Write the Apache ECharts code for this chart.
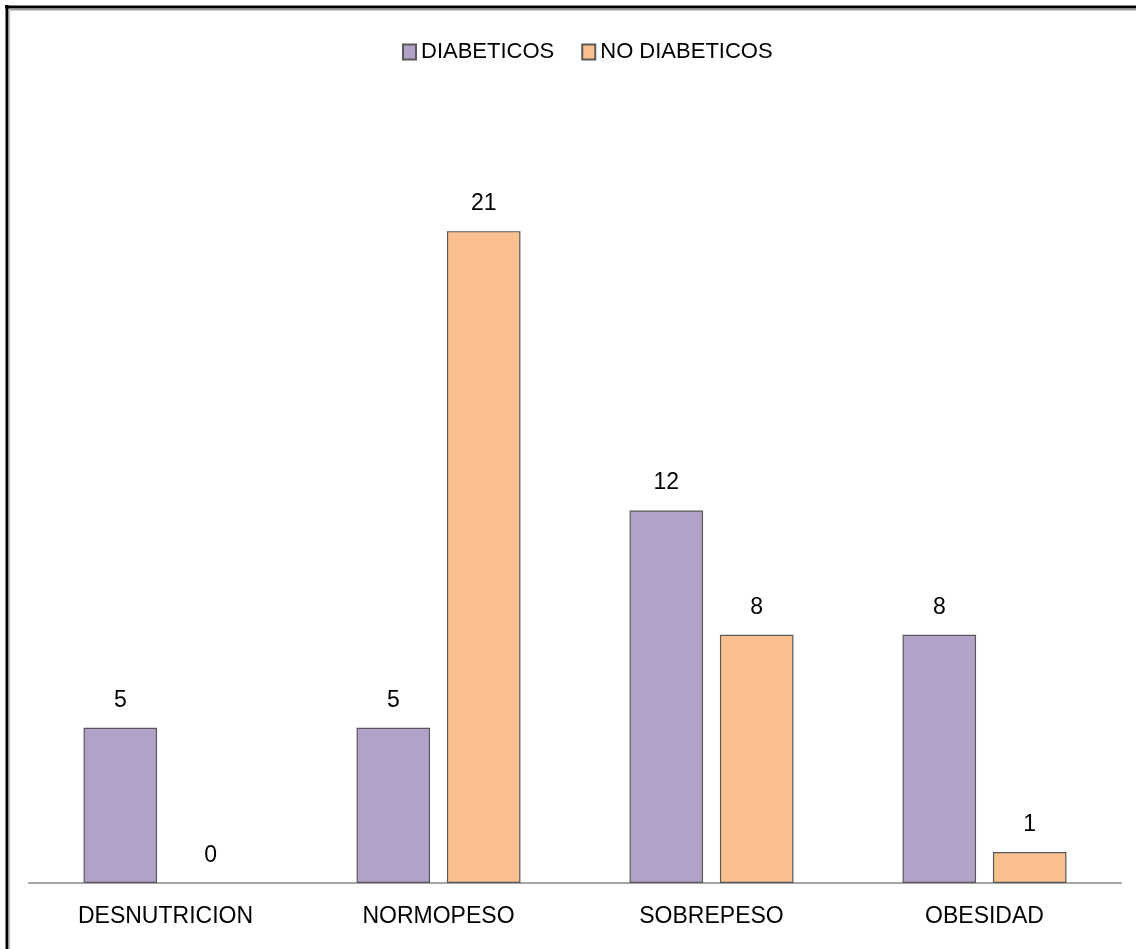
<!DOCTYPE html>
<html>
<head>
<meta charset="utf-8">
<script src="https://cdn.jsdelivr.net/npm/echarts@6/dist/echarts.min.js"></script>
<style>
html,body{margin:0;padding:0;background:#fff;}
#chart{width:1136px;height:949px;}
</style>
</head>
<body>
<div id="chart"></div>
<script>
const categories = ['DESNUTRICION', 'NORMOPESO', 'SOBREPESO', 'OBESIDAD'];
const seriesNames = ['DIABETICOS', 'NO DIABETICOS'];
const diabeticos = [5, 5, 12, 8];
const noDiabeticos = [0, 21, 8, 1];

const FONT = "'Liberation Sans', Arial, sans-serif";
const chart = echarts.init(document.getElementById('chart'), null, {renderer: 'canvas'});

const labelOpt = {
  show: true,
  position: 'top',
  distance: 16,
  color: '#000',
  fontFamily: FONT,
  fontSize: 23
};

// zero-height bars draw no outline
function toItems(arr) {
  return arr.map(v => v === 0 ? {value: v, itemStyle: {borderWidth: 0}} : v);
}

chart.setOption({
  animation: false,
  backgroundColor: '#fff',
  legend: {
    top: 36,
    left: 397,
    itemWidth: 13,
    itemHeight: 15,
    itemGap: 27,
    icon: 'rect',
    textStyle: {fontFamily: FONT, fontSize: 22, color: '#000'},
    data: seriesNames
  },
  grid: {left: 29, right: 15, top: 107, bottom: 66, containLabel: false},
  xAxis: {
    type: 'category',
    data: categories,
    axisLine: {show: true, lineStyle: {color: '#a6a6a6', width: 2}},
    axisTick: {show: false},
    axisLabel: {color: '#000', fontFamily: FONT, fontSize: 23, margin: 22}
  },
  yAxis: {
    type: 'value',
    min: 0,
    max: 25,
    show: false,
    splitLine: {show: false}
  },
  series: [
    {
      name: seriesNames[0],
      type: 'bar',
      data: toItems(diabeticos),
      barGap: '23%',
      barCategoryGap: '40%',
      itemStyle: {color: '#B3A2C7', borderColor: '#595959', borderWidth: 1.2},
      label: labelOpt
    },
    {
      name: seriesNames[1],
      type: 'bar',
      data: toItems(noDiabeticos),
      itemStyle: {color: '#FAC090', borderColor: '#595959', borderWidth: 1.2},
      label: labelOpt
    }
  ],
  graphic: [
    {type: 'line', shape: {x1: 5, y1: 7, x2: 1136, y2: 7}, style: {stroke: '#000', lineWidth: 3}},
    {type: 'line', shape: {x1: 7, y1: 5, x2: 7, y2: 949}, style: {stroke: '#000', lineWidth: 3}},
    {type: 'line', shape: {x1: 9, y1: 9.5, x2: 1136, y2: 9.5}, style: {stroke: '#9a9a9a', lineWidth: 2}},
    {type: 'line', shape: {x1: 9.5, y1: 9, x2: 9.5, y2: 949}, style: {stroke: '#c8c8c8', lineWidth: 1.5}}
  ]
});
</script>
</body>
</html>
